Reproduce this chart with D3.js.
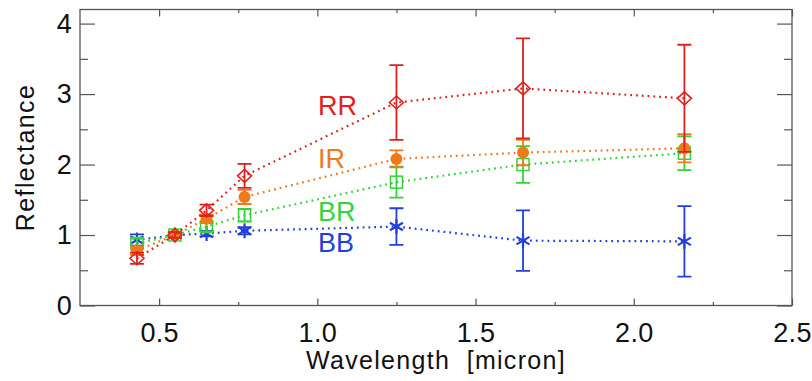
<!DOCTYPE html>
<html>
<head>
<meta charset="utf-8">
<script src="https://cdn.jsdelivr.net/npm/d3@7"></script>
<style>
  html, body { margin: 0; padding: 0; background: #fff; }
  svg { display: block; font-family: "Liberation Sans", Arial, Helvetica, sans-serif; }
</style>
</head>
<body>
<svg id="chart" width="812" height="381"></svg>
<script>
// Wavelengths of the filter bands (micron)
const wavelengths = [0.43, 0.55, 0.65, 0.77, 1.25, 1.65, 2.16];

// Reflectance normalised at 0.55 micron, with 1-sigma errors
const rrValues = [0.67, 1.00, 1.35, 1.84, 2.88, 3.08, 2.94];
const rrErrors = [0.08, 0.04, 0.08, 0.17, 0.53, 0.71, 0.76];
const irValues = [0.78, 1.00, 1.23, 1.54, 2.08, 2.17, 2.23];
const irErrors = [0.06, 0.04, 0.06, 0.10, 0.12, 0.18, 0.20];
const brValues = [0.88, 1.00, 1.12, 1.28, 1.75, 2.00, 2.16];
const brErrors = [0.07, 0.04, 0.07, 0.09, 0.22, 0.26, 0.24];
const bbValues = [0.93, 1.00, 1.02, 1.06, 1.12, 0.92, 0.91];
const bbErrors = [0.08, 0.03, 0.04, 0.05, 0.26, 0.43, 0.50];

const xTicks = [0.5, 1.0, 1.5, 2.0, 2.5];
const xMinorTicks = [0.75, 1.25, 1.75, 2.25];
const yTicks = [0, 1, 2, 3, 4];
const yMinorTicks = [0.5, 1.5, 2.5, 3.5];

const series = [
  { name: "BB", values: bbValues, errors: bbErrors, color: "#2240d8", marker: "asterisk", label: [318, 252] },
  { name: "BR", values: brValues, errors: brErrors, color: "#33d43a", marker: "square",   label: [318, 221] },
  { name: "IR", values: irValues, errors: irErrors, color: "#ef7a1c", marker: "circle",   label: [318, 168] },
  { name: "RR", values: rrValues, errors: rrErrors, color: "#e0221e", marker: "diamond",  label: [318, 115] }
];

const svg = d3.select("#chart");
const plotLeft = 80, plotRight = 792, plotTop = 9.5, plotBottom = 305.5;

const x = d3.scaleLinear().domain([0.25, 2.5]).range([plotLeft, plotRight]);
const y = d3.scaleLinear().domain([0, 4.2]).range([plotBottom, plotTop]);

// Frame
svg.append("rect")
  .attr("x", plotLeft).attr("y", plotTop)
  .attr("width", plotRight - plotLeft).attr("height", plotBottom - plotTop)
  .attr("fill", "none").attr("stroke", "#555").attr("stroke-width", 1.3);

const axisColor = "#555";
const tickFont = 27;

// Bottom axis with labels, top axis mirrored ticks
const gxb = svg.append("g").attr("transform", `translate(0,${plotBottom})`)
  .call(d3.axisBottom(x).tickValues(xTicks).tickSize(-7).tickFormat(d3.format(".1f")));
gxb.selectAll(".tick text").attr("y", 36).attr("dy", null);
svg.append("g").attr("transform", `translate(0,${plotBottom})`)
  .call(d3.axisBottom(x).tickValues(xMinorTicks).tickSize(-3.5).tickFormat(""));
svg.append("g").attr("transform", `translate(0,${plotTop})`)
  .call(d3.axisTop(x).tickValues(xTicks).tickSize(-7).tickFormat(""));
svg.append("g").attr("transform", `translate(0,${plotTop})`)
  .call(d3.axisTop(x).tickValues(xMinorTicks).tickSize(-3.5).tickFormat(""));

// Left axis with labels, right axis mirrored ticks
const gyl = svg.append("g").attr("transform", `translate(${plotLeft},0)`)
  .call(d3.axisLeft(y).tickValues(yTicks).tickSize(-15).tickFormat(d3.format("d")));
gyl.selectAll(".tick text").attr("x", -8);
svg.append("g").attr("transform", `translate(${plotLeft},0)`)
  .call(d3.axisLeft(y).tickValues(yMinorTicks).tickSize(-8).tickFormat(""));
svg.append("g").attr("transform", `translate(${plotRight},0)`)
  .call(d3.axisRight(y).tickValues(yTicks).tickSize(-15).tickFormat(""));
svg.append("g").attr("transform", `translate(${plotRight},0)`)
  .call(d3.axisRight(y).tickValues(yMinorTicks).tickSize(-8).tickFormat(""));

svg.selectAll(".domain").remove();
svg.selectAll(".tick line").attr("stroke", axisColor).attr("stroke-width", 1.2);
svg.selectAll(".tick text").attr("fill", "#111").attr("font-size", tickFont)
  .attr("letter-spacing", 0.3)
  .attr("font-family", "'Liberation Sans', Arial, sans-serif");

// Axis titles
svg.append("text")
  .attr("x", (plotLeft + plotRight) / 2).attr("y", 369)
  .attr("text-anchor", "middle").attr("font-size", 25).attr("fill", "#111")
  .attr("letter-spacing", 1.3)
  .text("Wavelength\u00a0\u00a0[micron]");
svg.append("text")
  .attr("transform", `translate(34,${(plotTop + plotBottom) / 2}) rotate(-90)`)
  .attr("text-anchor", "middle").attr("font-size", 25).attr("fill", "#111")
  .attr("letter-spacing", 1.4)
  .text("Reflectance");

// Marker shapes
function drawMarker(g, m, cx, cy, color) {
  if (m === "circle") {
    g.append("circle").attr("cx", cx).attr("cy", cy).attr("r", 6).attr("fill", color);
  } else if (m === "square") {
    g.append("rect").attr("x", cx - 6).attr("y", cy - 6).attr("width", 12).attr("height", 12)
      .attr("fill", "none").attr("stroke", color).attr("stroke-width", 1.5);
  } else if (m === "diamond") {
    g.append("path").attr("d", `M${cx - 7},${cy}L${cx},${cy - 6.5}L${cx + 7},${cy}L${cx},${cy + 6.5}Z`)
      .attr("fill", "none").attr("stroke", color).attr("stroke-width", 1.6);
  } else if (m === "asterisk") {
    const r = 7.5;
    const p = [];
    [0, 60, 120].forEach(a => {
      const t = a * Math.PI / 180;
      p.push(`M${cx - r * Math.sin(t)},${cy - r * Math.cos(t)}L${cx + r * Math.sin(t)},${cy + r * Math.cos(t)}`);
    });
    g.append("path").attr("d", p.join("")).attr("stroke", color).attr("stroke-width", 2.2).attr("fill", "none");
  }
}

const line = d3.line().x(d => x(d[0])).y(d => y(d[1]));

series.forEach(s => {
  const g = svg.append("g");
  const pts = wavelengths.map((w, i) => [w, s.values[i], s.errors[i]]);
  g.append("path").datum(pts).attr("d", line)
    .attr("fill", "none").attr("stroke", s.color).attr("stroke-width", 2.2)
    .attr("stroke-dasharray", "1.8,4").attr("stroke-linecap", "butt");
  pts.forEach(([w, v, e]) => {
    const cx = x(w);
    const cap = 7;
    g.append("path")
      .attr("d", `M${cx},${y(v - e)}L${cx},${y(v + e)}M${cx - cap},${y(v - e)}L${cx + cap},${y(v - e)}M${cx - cap},${y(v + e)}L${cx + cap},${y(v + e)}`)
      .attr("stroke", s.color).attr("stroke-width", 1.8).attr("fill", "none");
    drawMarker(g, s.marker, cx, y(v), s.color);
  });
  svg.append("text").attr("x", s.label[0]).attr("y", s.label[1])
    .attr("font-size", 27).attr("fill", s.color).text(s.name);
});
</script>
</body>
</html>
